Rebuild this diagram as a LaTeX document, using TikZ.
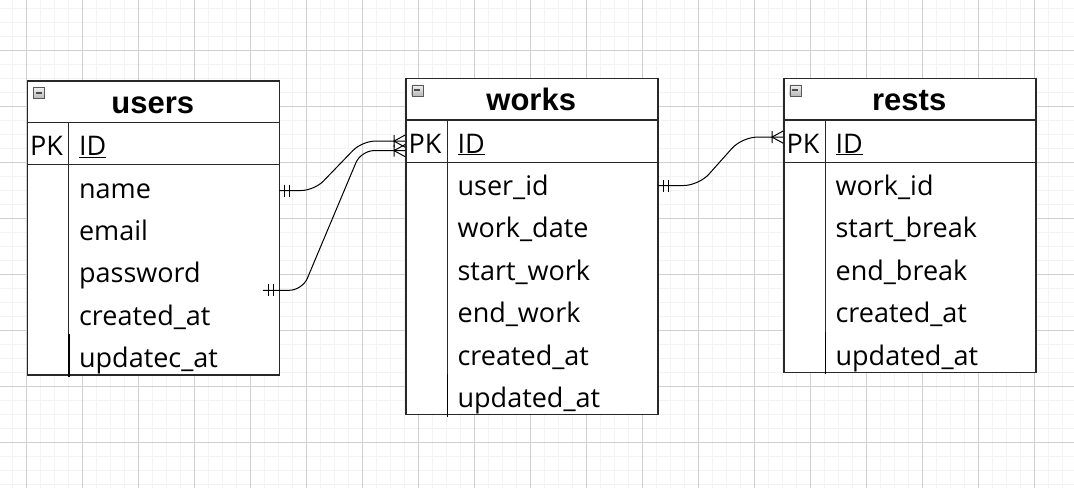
\documentclass[tikz,border=0pt]{standalone}
\usepackage{fontspec}
\setmainfont{Open Sans}
\newfontfamily\headfont{Liberation Sans}
\usetikzlibrary{positioning}
\definecolor{gridminor}{RGB}{243,243,243}
\definecolor{gridmajor}{RGB}{208,208,208}
\definecolor{tableline}{RGB}{40,40,40}

\begin{document}
\begin{tikzpicture}[x=1pt, y=-1pt, node distance=0pt,
    tblframe/.style={draw=tableline, line width=1.5pt, fill=white, minimum width=252pt, inner sep=0pt, anchor=north west},
    tbltitle/.style={font=\headfont\bfseries\fontsize{31}{31}\selectfont, minimum width=252pt, minimum height=42pt,
        inner sep=0pt, text height=24pt, text depth=0pt, anchor=north west},
    foldicon/.style={draw=gray!70!black, top color=gray!10, bottom color=gray!55, minimum size=11pt, inner sep=0pt, anchor=north west,
        path picture={\draw[line width=1.6pt, black!70] ([xshift=2.5pt]path picture bounding box.west) -- ([xshift=-2.5pt]path picture bounding box.east);}},
    keycell/.style={font=\fontsize{27}{27}\selectfont, minimum width=42pt, minimum height=42pt, inner xsep=3.5pt, inner ysep=0pt,
        text width=35pt, align=left, text height=25pt, text depth=1pt},
    fieldcell/.style={font=\fontsize{27}{27}\selectfont, minimum width=210pt, minimum height=42pt, inner xsep=10pt, inner ysep=0pt,
        text width=190pt, align=left, text height=25pt, text depth=1pt},
    sepline/.style={draw=tableline, line width=1.3pt},
    colline/.style={draw=tableline, line width=1.1pt},
    lastcol/.style={draw=black, line width=1.7pt},
    relline/.style={draw=black, line width=1pt, rounded corners=13pt},
    onemark/.pic={\draw[line width=1pt] (5.5,-6) -- (5.5,6) (10.5,-6) -- (10.5,6);},
    manymark/.pic={\draw[line width=1pt] (-11,-6) -- (-11,6) (0,-6) -- (-11,0) -- (0,6);}
  ]
    \useasboundingbox (0,0) rectangle (1074,488);
    % Background grid
    \fill[white] (0,0) rectangle (1074,488);
    \foreach \gx in {12.5,26.5,...,1062.5} \draw[gridminor, line width=1pt] (\gx,0) -- (\gx,488);
    \foreach \gy in {8,22,...,484} \draw[gridminor, line width=1pt] (0,\gy) -- (1074,\gy);
    \foreach \gx in {26.5,82.5,...,1034.5} \draw[gridmajor, line width=1pt] (\gx,0) -- (\gx,488);
    \foreach \gy in {50,106,...,442} \draw[gridmajor, line width=1pt] (0,\gy) -- (1074,\gy);

    % users table
    \node[tblframe, minimum height=294pt] (users) at (26.5,80) {};
    \node[tbltitle] (users-title) at (users.north west) {users};
    \node[foldicon] (users-fold) at ([shift={(6.5pt,-7pt)}]users.north west) {};
    \node[keycell, anchor=north west] (users-pk) at (users-title.south west) {PK};
    \node[fieldcell, right=of users-pk] (users-id) {\underline{ID}};
    \node[fieldcell, below=of users-id] (users-name) {name};
    \node[fieldcell, below=of users-name] (users-email) {email};
    \node[fieldcell, below=of users-email] (users-password) {password};
    \node[fieldcell, below=of users-password] (users-created) {created\_at};
    \node[fieldcell, below=of users-created] (users-updated) {updatec\_at};
    \draw[sepline] (users-title.south west) -- (users-title.south east);
    \draw[sepline] (users-pk.south west) -- (users-id.south east);
    \draw[colline] (users-pk.north east) -- (users-pk.north east |- users.south);
    \draw[lastcol] (users-updated.north west) -- (users-updated.south west);

    % works table
    \node[tblframe, minimum height=336pt] (works) at (405,77.5) {};
    \node[tbltitle] (works-title) at (works.north west) {works};
    \node[foldicon] (works-fold) at ([shift={(6.5pt,-7pt)}]works.north west) {};
    \node[keycell, anchor=north west] (works-pk) at (works-title.south west) {PK};
    \node[fieldcell, right=of works-pk] (works-id) {\underline{ID}};
    \node[fieldcell, below=of works-id] (works-userid) {user\_id};
    \node[fieldcell, below=of works-userid] (works-date) {work\_date};
    \node[fieldcell, below=of works-date] (works-start) {start\_work};
    \node[fieldcell, below=of works-start] (works-end) {end\_work};
    \node[fieldcell, below=of works-end] (works-created) {created\_at};
    \node[fieldcell, below=of works-created] (works-updated) {updated\_at};
    \draw[sepline] (works-title.south west) -- (works-title.south east);
    \draw[sepline] (works-pk.south west) -- (works-id.south east);
    \draw[colline] (works-pk.north east) -- (works-pk.north east |- works.south);
    \draw[lastcol] (works-updated.north west) -- (works-updated.south west);

    % rests table
    \node[tblframe, minimum height=294pt] (rests) at (783,77.5) {};
    \node[tbltitle] (rests-title) at (rests.north west) {rests};
    \node[foldicon] (rests-fold) at ([shift={(6.5pt,-7pt)}]rests.north west) {};
    \node[keycell, anchor=north west] (rests-pk) at (rests-title.south west) {PK};
    \node[fieldcell, right=of rests-pk] (rests-id) {\underline{ID}};
    \node[fieldcell, below=of rests-id] (rests-workid) {work\_id};
    \node[fieldcell, below=of rests-workid] (rests-start) {start\_break};
    \node[fieldcell, below=of rests-start] (rests-end) {end\_break};
    \node[fieldcell, below=of rests-end] (rests-created) {created\_at};
    \node[fieldcell, below=of rests-created] (rests-updated) {updated\_at};
    \draw[sepline] (rests-title.south west) -- (rests-title.south east);
    \draw[sepline] (rests-pk.south west) -- (rests-id.south east);
    \draw[colline] (rests-pk.north east) -- (rests-pk.north east |- rests.south);
    \draw[lastcol] (rests-updated.north west) -- (rests-updated.south west);

    % Relations
    \coordinate (name-out) at ([yshift=-4.5pt]users-name.east);
    \coordinate (pw-out) at ([xshift=-16.5pt, yshift=-19.5pt]users-password.east);
    \coordinate (works-in) at ([yshift=-9.5pt]works-pk.west);
    \coordinate (uid-out) at ([yshift=-2pt]works-userid.east);
    \coordinate (rests-in) at ([yshift=4pt]rests-pk.west);
    \draw[relline] (name-out) -- ++(35,0) -- ([xshift=-43pt]works-pk.west) -- (works-pk.west);
    \draw[relline] (pw-out) -- ++(39.5,0) -- ([xshift=-44pt]works-in) -- (works-in);
    \draw[relline, rounded corners=15pt] (uid-out) -- ++(41,0) -- ([xshift=-41pt]rests-in) -- (rests-in);
    \pic at (name-out) {onemark};
    \pic at (pw-out) {onemark};
    \pic at (uid-out) {onemark};
    \pic at (works-pk.west) {manymark};
    \pic at (works-in) {manymark};
    \pic at (rests-in) {manymark};
\end{tikzpicture}
\end{document}
